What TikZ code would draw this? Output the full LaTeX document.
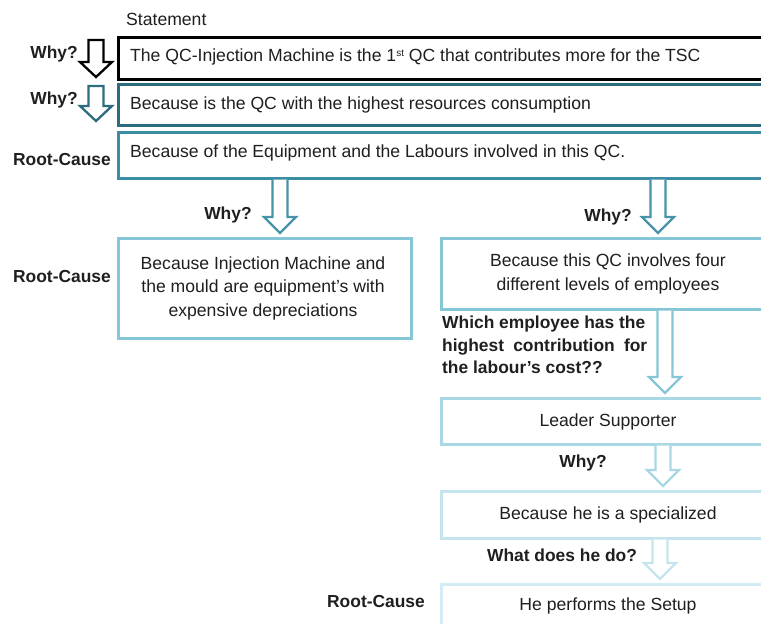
\documentclass[tikz,border=0pt]{standalone}
\usepackage{fontspec}
\setmainfont{Liberation Sans}
\usetikzlibrary{calc}

\definecolor{txt}{HTML}{1F1F1F}
\definecolor{lvA}{HTML}{2D6B7E}
\definecolor{lvB}{HTML}{3B8DA3}
\definecolor{lvBarrow}{HTML}{4893A8}
\definecolor{lvC}{HTML}{86C6D6}
\definecolor{lvD}{HTML}{A9D8E4}
\definecolor{lvE}{HTML}{C4E5EE}
\definecolor{lvF}{HTML}{D3ECF3}

\tikzset{
  box/.style={draw, line width=2.5pt, rectangle, inner sep=0pt, anchor=north west, fill=white},
  body/.style={text=txt, font=\fontsize{17.6}{23.5}\selectfont, inner sep=0pt, yshift=-2pt},
  tag/.style={text=txt, font=\fontsize{17.4}{22.5}\selectfont\bfseries, inner sep=0pt, yshift=-2pt},
  arrowline/.style={line width=2.3pt, fill=white, line join=miter},
}

% small raised ordinal suffix
\newcommand\ordsuffix[1]{\raisebox{5.5pt}{\fontsize{10}{10}\selectfont #1}}

% hollow block arrow standing on its own: colour, centre x, top, head start, tip
\newcommand\freearrow[5]{%
  \draw[#1, arrowline] (#2-7.5,#3) -- (#2-7.5,#4) -- (#2-16,#4) -- (#2,#5)
    -- (#2+16,#4) -- (#2+7.5,#4) -- (#2+7.5,#3) -- cycle;}

% hollow block arrow from the bottom of one box to the top of another:
% colour, centre x, start node, end node
\newcommand\linkarrow[4]{%
  \path[#1, arrowline] let \p1=(#3.south), \p2=(#4.north) in
    ({#2pt-7.5pt},\y1) -- ({#2pt-7.5pt},{\y2+20pt}) -- ({#2pt-16pt},{\y2+20pt})
    -- (#2pt,{\y2+4pt}) -- ({#2pt+16pt},{\y2+20pt}) -- ({#2pt+7.5pt},{\y2+20pt})
    -- ({#2pt+7.5pt},\y1);
  \draw[#1, line width=2.3pt, line join=miter] let \p1=(#3.south), \p2=(#4.north) in
    ({#2pt-7.5pt},\y1) -- ({#2pt-7.5pt},{\y2+20pt}) -- ({#2pt-16pt},{\y2+20pt})
    -- (#2pt,{\y2+4pt}) -- ({#2pt+16pt},{\y2+20pt}) -- ({#2pt+7.5pt},{\y2+20pt})
    -- ({#2pt+7.5pt},\y1);}

\begin{document}
\begin{tikzpicture}[x=1pt, y=-1pt]
  \useasboundingbox (0,0) rectangle (761,624);
  \clip (0,0) rectangle (761,624);

  % boxes of the chain
  \node[box, draw=black, line width=2.8pt, minimum width=680, minimum height=42] (s1) at (117,36) {};
  \node[box, draw=lvA, minimum width=680, minimum height=41] (s2) at (117,83) {};
  \node[box, draw=lvB, minimum width=680, minimum height=46] (s3) at (117,131) {};
  \node[box, draw=lvC, minimum width=293, minimum height=100] (eq) at (117,237) {};
  \node[box, draw=lvC, minimum width=336, minimum height=71] (lab) at (440,237) {};
  \node[box, draw=lvD, minimum width=336, minimum height=46] (lead) at (440,397) {};
  \node[box, draw=lvE, minimum width=336, minimum height=47] (spec) at (440,490) {};
  \node[box, draw=lvF, minimum width=336, minimum height=60] (setup) at (440,583) {};

  % connectors between boxes
  \linkarrow{lvBarrow}{280}{s3}{eq}
  \linkarrow{lvBarrow}{658}{s3}{lab}
  \linkarrow{lvC}{665}{lab}{lead}
  \linkarrow{lvD}{663}{lead}{spec}
  \linkarrow{lvE}{660}{spec}{setup}

  % arrows beside the first two statements
  \freearrow{black}{96}{40}{62}{77}
  \freearrow{lvA}{96}{86}{106}{121}

  % texts in the boxes
  \node[body, anchor=west] (t1) at (130,55)
    {The QC-Injection Machine is the 1\ordsuffix{st} QC that contributes more for the TSC};
  \node[body, anchor=west] (t2) at (130,103)
    {Because is the QC with the highest resources consumption};
  \node[body, anchor=west] (t3) at (130,151)
    {Because of the Equipment and the Labours involved in this QC.};
  \node[body, align=center] (t4) at (263,286)
    {Because Injection Machine and\\the mould are equipment's with\\expensive depreciations};
  \node[body, align=center] (t5) at (608,272)
    {Because this QC involves four\\different levels of employees};
  \node[body] (t6) at (608,420) {Leader Supporter};
  \node[body] (t7) at (608,513) {Because he is a specialized};
  \node[body] (t8) at (608,604) {He performs the Setup};

  % labels
  \node[body, anchor=west] (stm) at (126,17.5) {Statement};
  \node[tag, anchor=east] (w1) at (78,52) {Why?};
  \node[tag, anchor=east] (w2) at (78,98) {Why?};
  \node[tag, anchor=east] (rc1) at (111,158) {Root-Cause};
  \node[tag] (w3) at (228,213) {Why?};
  \node[tag] (w4) at (608,215) {Why?};
  \node[tag, anchor=east] (rc2) at (111,275) {Root-Cause};
  \node[tag, align=left, anchor=north west] (q1) at (442,314)
    {Which employee has the\\\makebox[205pt][s]{highest contribution for}\\the labour's cost??};
  \node[tag] (w5) at (583,461) {Why?};
  \node[tag] (q2) at (562,553) {What does he do?};
  \node[tag] (rc3) at (376,600) {Root-Cause};
\end{tikzpicture}
\end{document}
